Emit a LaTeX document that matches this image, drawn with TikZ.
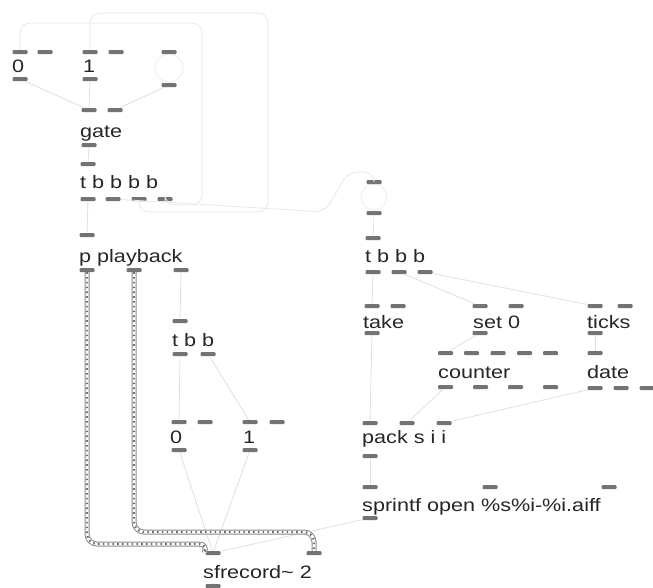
\documentclass[tikz,border=0pt]{standalone}
\usepackage{fontspec}
\setmainfont{Liberation Sans}[FakeStretch=1.2]
\tikzset{
  port/.style={rectangle, minimum width=15pt, minimum height=4pt, inner sep=0pt, fill=black!55, rounded corners=1pt},
  lbl/.style={anchor=base west, inner sep=0pt, text=black!85, font=\fontsize{18}{20}\selectfont},
  cord/.style={draw=gray!24, line width=0.8pt},
  loopcord/.style={draw=gray!18, line width=0.8pt, rounded corners=10pt},
  faintcirc/.style={draw=gray!14, circle, inner sep=0pt, line width=0.8pt},
  sig/.style={draw=black!45, line width=5pt, rounded corners=10pt,
     postaction={draw=white, line width=3pt},
     postaction={draw=black!55, line width=2.4pt, dash pattern=on 1.6pt off 3.2pt}}
}
\newcommand{\pt}[3]{\node[port] (#1) at (#2,#3) {};}
\begin{document}
\begin{tikzpicture}[x=1pt,y=-1pt]
\useasboundingbox (0,0) rectangle (653,587);
\fill[white] (0,0) rectangle (653,587);

% ---- faint circles (toggle / button)
\node[faintcirc, minimum size=28pt] (tgl) at (169,68) {};
\node[faintcirc, minimum size=26pt] (bng) at (374,197) {};

% ---- left column objects
\node[lbl] (t0a) at (12,72) {0};
\pt{m0a-i1}{20}{52} \pt{m0a-i2}{45}{52} \pt{m0a-o}{20}{79}
\node[lbl] (t1a) at (83,72) {1};
\pt{m1a-i1}{90}{52} \pt{m1a-i2}{116}{52} \pt{m1a-o}{90}{79}
\pt{tg-i}{169}{52} \pt{tg-o}{169}{85}

\node[lbl] (tgate) at (80,137) {gate};
\pt{gate-i1}{89}{110} \pt{gate-i2}{115}{110} \pt{gate-o}{89}{145}

\node[lbl] (tt4) at (80,188) {t b b b b};
\pt{t4-i}{88}{164}
\pt{t4-o1}{88}{199} \pt{t4-o2}{113}{199} \pt{t4-o3}{139}{199} \pt{t4-o4}{165}{199}

\node[lbl] (tpb) at (79,262) {p playback};
\pt{pb-i}{87}{235}
\pt{pb-o1}{87}{270} \pt{pb-o2}{134}{270} \pt{pb-o3}{181}{270}

\node[lbl] (tt2) at (172,346) {t b b};
\pt{t2-i}{180}{321}
\pt{t2-o1}{180}{354} \pt{t2-o2}{208}{354}

\node[lbl] (t0b) at (170,443) {0};
\pt{m0b-i1}{179}{422} \pt{m0b-i2}{205}{422} \pt{m0b-o}{179}{450}
\node[lbl] (t1b) at (243,443) {1};
\pt{m1b-i1}{250}{422} \pt{m1b-i2}{277}{422} \pt{m1b-o}{250}{450}

\node[lbl] (tsf) at (203,578) {sfrecord\textasciitilde{} 2};
\pt{sf-i1}{213}{553} \pt{sf-i2}{314}{553} \pt{sf-o}{213}{586}

% ---- right column objects
\pt{bb-i}{374}{182} \pt{bb-o}{374}{213}

\node[lbl] (tt3) at (365,262) {t b b b};
\pt{t3-i}{373}{238}
\pt{t3-o1}{373}{272} \pt{t3-o2}{399}{272} \pt{t3-o3}{425}{272}

\node[lbl] (ttake) at (363,328) {take};
\pt{tk-i1}{372}{306} \pt{tk-i2}{398}{306} \pt{tk-o}{372}{333}
\node[lbl] (tset) at (473,328) {set 0};
\pt{s0-i1}{480}{306} \pt{s0-i2}{516}{306} \pt{s0-o}{480}{333}
\node[lbl] (tticks) at (587,328) {ticks};
\pt{tc-i1}{595}{306} \pt{tc-i2}{625}{306} \pt{tc-o}{595}{333}

\node[lbl] (tcount) at (438,378) {counter};
\pt{ct-i1}{445.5}{353} \pt{ct-i2}{471.5}{353} \pt{ct-i3}{498}{353} \pt{ct-i4}{524.5}{353} \pt{ct-i5}{550.5}{353}
\pt{ct-o1}{445.5}{387} \pt{ct-o2}{480.5}{387} \pt{ct-o3}{515.5}{387} \pt{ct-o4}{550.5}{387}
\node[lbl] (tdate) at (587,378) {date};
\pt{dt-i}{595}{353}
\pt{dt-o1}{595}{388} \pt{dt-o2}{621}{388} \pt{dt-o3}{647}{388}

\node[lbl] (tpack) at (362,443) {pack s i i};
\pt{pk-i1}{370}{423} \pt{pk-i2}{407}{423} \pt{pk-i3}{444}{423} \pt{pk-o}{370}{456}

\node[lbl] (tspr) at (362,511) {sprintf open \%s\%i-\%i.aiff};
\pt{sp-i1}{370}{487} \pt{sp-i2}{490}{487} \pt{sp-i3}{609}{487} \pt{sp-o}{370}{518}

% ---- faint control cords
\draw[cord] (m0a-o) -- (gate-i1);
\draw[cord] (m1a-o) -- (gate-i1);
\draw[cord] (tg-o) -- (gate-i2);
\draw[cord] (gate-o) -- (t4-i);
\draw[cord] (t4-o1) -- (pb-i);
\draw[loopcord] (t4-o4) |- (202,205) -- (202,23) -| (m0a-i1);
\draw[loopcord] (t4-o3) |- (268,212) -- (268,13) -| (m1a-i1);
\draw[loopcord] (t4-o2) -- (325,212) -- (348,172) -| (bb-i);
\draw[cord] (bb-o) -- (t3-i);
\draw[cord] (t3-o1) -- (tk-i1);
\draw[cord] (t3-o2) -- (s0-i1);
\draw[cord] (t3-o3) -- (tc-i1);
\draw[cord] (tk-o) -- (pk-i1);
\draw[cord] (s0-o) -- (ct-i1);
\draw[cord] (tc-o) -- (dt-i);
\draw[cord] (ct-o1) -- (pk-i2);
\draw[cord] (dt-o1) -- (pk-i3);
\draw[cord] (pk-o) -- (sp-i1);
\draw[cord] (sp-o) -- (sf-i1);
\draw[cord] (pb-o3) -- (t2-i);
\draw[cord] (t2-o1) -- (m0b-i1);
\draw[cord] (t2-o2) -- (m1b-i1);
\draw[cord] (m0b-o) -- (sf-i1);
\draw[cord] (m1b-o) -- (sf-i1);

% ---- audio cords
\draw[sig] (pb-o1.south) -- (87,544) -- (209,544) -- (sf-i1.north west);
\draw[sig] (pb-o2.south) -- (134,532) -- (314,532) -- (sf-i2.north);
\end{tikzpicture}
\end{document}
